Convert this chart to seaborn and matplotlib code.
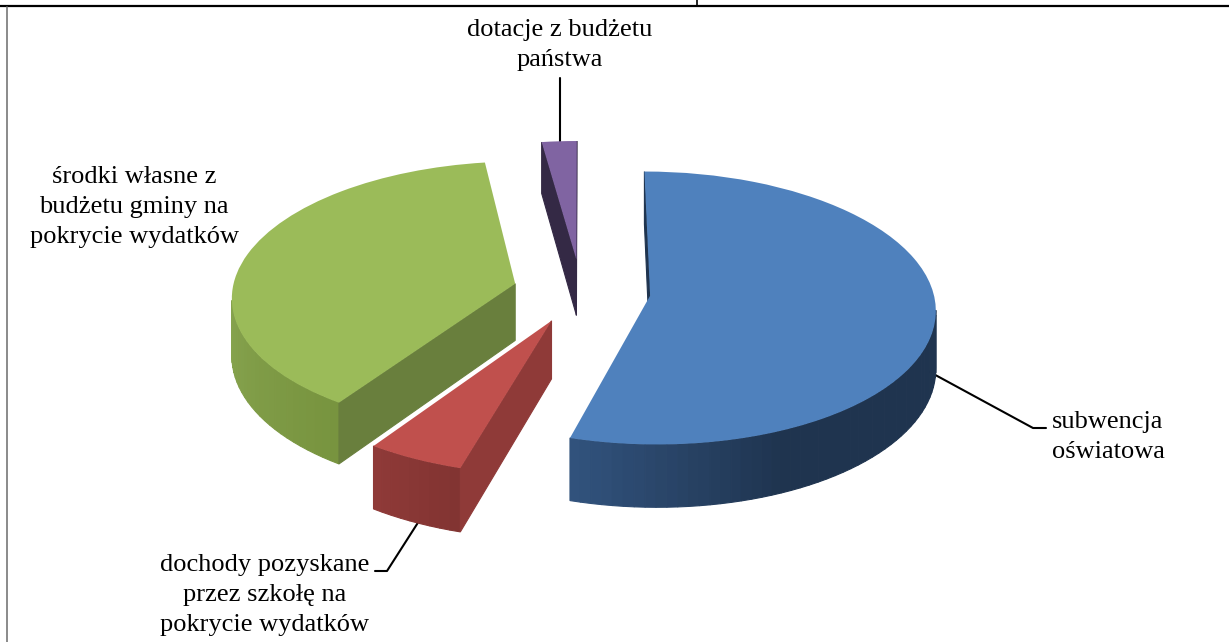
import numpy as np
import matplotlib
matplotlib.use('Agg')
import matplotlib.pyplot as plt
from matplotlib.transforms import Transform
import seaborn as sns

labels = ['subwencja\noświatowa',
          'dochody pozyskane\nprzez szkołę na\npokrycie wydatków',
          'środki własne z\nbudżetu gminy na\npokrycie wydatków',
          'dotacje z budżetu\npaństwa']
shares = [54.5, 5.0, 38.3, 2.2]
pulled = [0.246, 0.24, 0.24, 0.24]
top_colors = ['#4f81bd', '#c0504d', '#9bbb59', '#8064a2']
cut_colors = ['#1f344f', '#8f3a38', '#697f3d', '#342945']
arc_stops = [['#31527c', '#1f344f', '#1f344f', '#1f344f', '#1f344f', '#1f344f'],
             ['#8f3a38', '#823432'],
             ['#86a34e', '#86a34e', '#86a34e', '#78943f'],
             ['#342945', '#342945']]
draw_order = [3, 2, 0, 1]

# where the pie sits in the picture, in pixels
cx, cy = 581, 291
rx, ry, tilt = 283, 134.5, 0.09
depth = 57


def project(x, y, z=0.0):
    w = 1 + tilt * y
    return cx + rx * x / w, cy - ry * y / w + depth * z / w


class Tilted(Transform):
    input_dims = output_dims = 2

    def transform_non_affine(self, values):
        sx, sy = project(values[:, 0], values[:, 1])
        return np.column_stack([sx, sy])


def rim(c, r, deg):
    return c[0] + r * np.cos(np.radians(deg)), c[1] + r * np.sin(np.radians(deg))


def wall(ax, p, q, color, zorder):
    # p and q are points on the pie plane, the wall hangs below them
    xs = [project(*p)[0], project(*q)[0], project(*q, 1)[0], project(*p, 1)[0]]
    ys = [project(*p)[1], project(*q)[1], project(*q, 1)[1], project(*p, 1)[1]]
    area = sum(xs[i] * ys[(i + 1) % 4] - xs[(i + 1) % 4] * ys[i] for i in range(4))
    if area > 0:
        ax.fill(xs, ys, color=color, lw=0.8, zorder=zorder)


sns.set_theme(style='white')
plt.rcParams['font.family'] = ['Liberation Serif', 'DejaVu Serif']

fig, ax = plt.subplots(figsize=(12.29, 6.42), dpi=100)
fig.subplots_adjust(0, 0, 1, 1)

wedges, _ = ax.pie(shares, colors=top_colors, startangle=90, counterclock=False,
                   explode=pulled, radius=1,
                   wedgeprops={'linewidth': 0})

tilted = Tilted() + ax.transData
for rank, i in enumerate(draw_order):
    wd = wedges[i]
    wd.set_transform(tilted)
    wd.set_zorder(3 + rank)
    z = 2.5 + rank
    n = max(int(wd.theta2 - wd.theta1) // 2, 6)
    angles = np.linspace(wd.theta1, wd.theta2, n + 1)
    shades = sns.blend_palette(arc_stops[i], n)
    for k in range(n):
        wall(ax, rim(wd.center, wd.r, angles[k]), rim(wd.center, wd.r, angles[k + 1]), shades[k], z)
    wall(ax, wd.center, rim(wd.center, wd.r, wd.theta1), cut_colors[i], z)
    wall(ax, rim(wd.center, wd.r, wd.theta2), wd.center, cut_colors[i], z)

ax.set_aspect('auto')
ax.set_xlim(0, 1229)
ax.set_ylim(642, 0)
ax.axis('off')

# labels and their leader lines
txt = dict(ha='center', va='center', fontsize=19, linespacing=1.48, color='black')
ax.text(1108, 437, labels[0], **txt)
ax.text(265, 595, labels[1], **txt)
ax.text(134, 207, labels[2], **txt)
ax.text(560, 45, labels[3], **txt)
ax.plot([928, 1033, 1046], [371, 428, 428], color='black', lw=1.5, zorder=1)
ax.plot([419, 387, 375], [521, 571, 571], color='black', lw=1.5, zorder=1)
ax.plot([560, 560], [78, 146], color='black', lw=1.5, zorder=1)

# table rules around the chart
ax.plot([0, 1229], [6, 6], color='black', lw=1.6, zorder=1)
ax.plot([697, 697], [0, 6], color='black', lw=1.2, zorder=1)
ax.plot([7, 7], [7, 642], color='#777777', lw=1.2, zorder=1)

fig.savefig('out.png', dpi=100)
